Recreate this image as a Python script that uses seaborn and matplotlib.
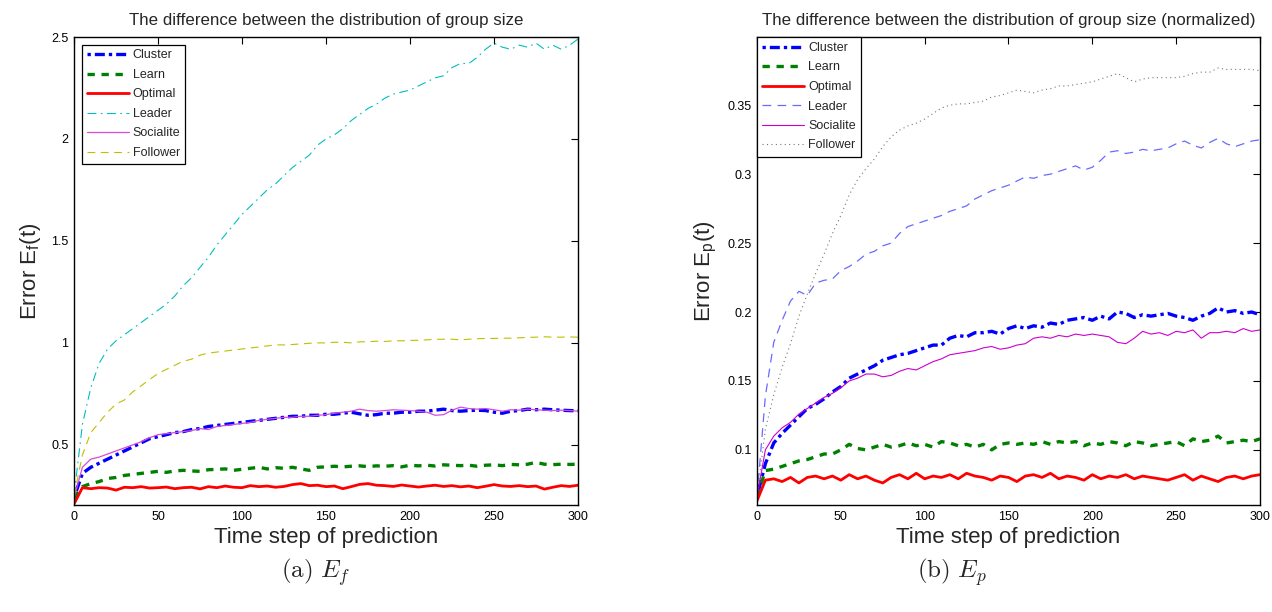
import matplotlib
matplotlib.use('Agg')
import matplotlib.pyplot as plt
import seaborn as sns
from matplotlib.ticker import FuncFormatter

# time steps (every 5 steps)
time = list(range(0, 301, 5))

# ---- (a) E_f ----
cluster_f = [0.24, 0.36, 0.39, 0.41, 0.43, 0.45, 0.47, 0.49, 0.51, 0.53, 0.54, 0.55, 0.56, 0.565, 0.575, 0.58,
             0.59, 0.595, 0.60, 0.605, 0.61, 0.615, 0.62, 0.625, 0.63, 0.635, 0.64, 0.64, 0.645, 0.645, 0.65,
             0.65, 0.655, 0.66, 0.652, 0.645, 0.648, 0.655, 0.655, 0.66, 0.66, 0.665, 0.665, 0.67, 0.675, 0.668,
             0.665, 0.668, 0.67, 0.668, 0.66, 0.655, 0.665, 0.668, 0.675, 0.672, 0.675, 0.672, 0.67, 0.668, 0.667]
learn_f = [0.24, 0.295, 0.31, 0.32, 0.335, 0.34, 0.35, 0.355, 0.36, 0.365, 0.37, 0.365, 0.372, 0.375, 0.372, 0.37,
           0.378, 0.38, 0.382, 0.375, 0.38, 0.385, 0.39, 0.382, 0.388, 0.385, 0.39, 0.382, 0.375, 0.39, 0.392,
           0.395, 0.392, 0.395, 0.397, 0.393, 0.397, 0.395, 0.398, 0.392, 0.40, 0.397, 0.40, 0.396, 0.402, 0.40,
           0.398, 0.40, 0.395, 0.40, 0.402, 0.398, 0.404, 0.402, 0.405, 0.414, 0.405, 0.403, 0.405, 0.404, 0.405]
optimal_f = [0.21, 0.29, 0.285, 0.29, 0.288, 0.278, 0.292, 0.29, 0.295, 0.288, 0.29, 0.293, 0.285, 0.29, 0.292,
             0.284, 0.295, 0.29, 0.298, 0.292, 0.29, 0.30, 0.295, 0.298, 0.292, 0.296, 0.305, 0.31, 0.30, 0.302,
             0.295, 0.298, 0.285, 0.295, 0.306, 0.31, 0.302, 0.30, 0.296, 0.303, 0.298, 0.293, 0.298, 0.302,
             0.296, 0.30, 0.294, 0.298, 0.29, 0.297, 0.305, 0.298, 0.296, 0.30, 0.295, 0.298, 0.283, 0.292, 0.30,
             0.296, 0.302]
leader_f = [0.25, 0.60, 0.78, 0.90, 0.97, 1.01, 1.04, 1.07, 1.10, 1.13, 1.16, 1.19, 1.23, 1.28, 1.32, 1.37, 1.42,
            1.48, 1.53, 1.58, 1.63, 1.67, 1.71, 1.75, 1.78, 1.82, 1.86, 1.89, 1.92, 1.97, 2.00, 2.02, 2.05, 2.09,
            2.12, 2.15, 2.17, 2.20, 2.22, 2.23, 2.24, 2.26, 2.28, 2.30, 2.31, 2.35, 2.37, 2.37, 2.40, 2.44, 2.47,
            2.45, 2.44, 2.46, 2.45, 2.47, 2.44, 2.46, 2.44, 2.46, 2.49]
socialite_f = [0.24, 0.39, 0.43, 0.44, 0.455, 0.47, 0.485, 0.50, 0.515, 0.535, 0.55, 0.555, 0.56, 0.565, 0.57,
               0.58, 0.575, 0.59, 0.595, 0.60, 0.605, 0.61, 0.62, 0.625, 0.63, 0.635, 0.635, 0.64, 0.64, 0.645,
               0.648, 0.655, 0.66, 0.665, 0.675, 0.668, 0.665, 0.668, 0.672, 0.67, 0.668, 0.665, 0.66, 0.645,
               0.648, 0.67, 0.685, 0.678, 0.675, 0.678, 0.672, 0.665, 0.672, 0.67, 0.675, 0.672, 0.67, 0.668,
               0.67, 0.668, 0.665]
follower_f = [0.25, 0.45, 0.56, 0.61, 0.66, 0.70, 0.72, 0.76, 0.79, 0.82, 0.85, 0.87, 0.89, 0.91, 0.92, 0.94,
              0.95, 0.955, 0.96, 0.965, 0.97, 0.975, 0.98, 0.985, 0.99, 0.99, 0.992, 0.995, 0.998, 1.0, 1.0,
              1.003, 1.003, 1.0, 1.005, 1.006, 1.008, 1.007, 1.01, 1.01, 1.012, 1.013, 1.015, 1.017, 1.018,
              1.018, 1.015, 1.018, 1.02, 1.022, 1.022, 1.023, 1.023, 1.025, 1.027, 1.028, 1.03, 1.028, 1.028,
              1.029, 1.028]

# ---- (b) E_p ----
cluster_p = [0.066, 0.09, 0.105, 0.112, 0.118, 0.124, 0.13, 0.133, 0.137, 0.142, 0.146, 0.152, 0.155, 0.158,
             0.161, 0.165, 0.167, 0.169, 0.17, 0.172, 0.174, 0.176, 0.176, 0.181, 0.183, 0.182, 0.185, 0.185,
             0.186, 0.184, 0.188, 0.19, 0.188, 0.19, 0.189, 0.192, 0.191, 0.194, 0.195, 0.196, 0.194, 0.197,
             0.195, 0.20, 0.199, 0.196, 0.198, 0.197, 0.198, 0.199, 0.197, 0.196, 0.194, 0.197, 0.199, 0.203,
             0.20, 0.201, 0.199, 0.20, 0.198]
learn_p = [0.066, 0.085, 0.086, 0.088, 0.09, 0.092, 0.093, 0.095, 0.097, 0.097, 0.10, 0.104, 0.101, 0.10, 0.102,
           0.104, 0.102, 0.103, 0.105, 0.103, 0.104, 0.102, 0.106, 0.105, 0.103, 0.104, 0.102, 0.104, 0.10,
           0.104, 0.105, 0.104, 0.105, 0.104, 0.106, 0.104, 0.106, 0.105, 0.106, 0.103, 0.105, 0.104, 0.106,
           0.105, 0.103, 0.106, 0.105, 0.103, 0.104, 0.105, 0.106, 0.103, 0.108, 0.106, 0.107, 0.11, 0.105,
           0.106, 0.107, 0.106, 0.108]
optimal_p = [0.063, 0.078, 0.079, 0.077, 0.08, 0.076, 0.08, 0.081, 0.079, 0.081, 0.078, 0.082, 0.079, 0.081,
             0.078, 0.076, 0.08, 0.082, 0.079, 0.083, 0.079, 0.081, 0.08, 0.082, 0.079, 0.083, 0.081, 0.08,
             0.078, 0.081, 0.08, 0.077, 0.081, 0.082, 0.08, 0.083, 0.079, 0.081, 0.08, 0.078, 0.082, 0.079,
             0.081, 0.08, 0.082, 0.079, 0.081, 0.08, 0.079, 0.078, 0.08, 0.082, 0.078, 0.081, 0.079, 0.077,
             0.08, 0.081, 0.079, 0.081, 0.082]
leader_p = [0.066, 0.139, 0.178, 0.194, 0.208, 0.215, 0.212, 0.221, 0.223, 0.224, 0.23, 0.233, 0.237, 0.242,
            0.244, 0.248, 0.25, 0.257, 0.262, 0.264, 0.266, 0.268, 0.27, 0.273, 0.275, 0.277, 0.282, 0.285,
            0.288, 0.29, 0.292, 0.295, 0.298, 0.297, 0.299, 0.30, 0.302, 0.304, 0.306, 0.303, 0.305, 0.31,
            0.316, 0.317, 0.315, 0.316, 0.318, 0.317, 0.318, 0.319, 0.322, 0.324, 0.321, 0.319, 0.323, 0.326,
            0.322, 0.32, 0.322, 0.324, 0.325]
socialite_p = [0.066, 0.10, 0.11, 0.116, 0.12, 0.126, 0.13, 0.134, 0.138, 0.141, 0.145, 0.15, 0.152, 0.155,
               0.155, 0.153, 0.154, 0.157, 0.159, 0.158, 0.161, 0.164, 0.166, 0.169, 0.17, 0.171, 0.172, 0.174,
               0.175, 0.173, 0.174, 0.176, 0.177, 0.181, 0.182, 0.181, 0.183, 0.182, 0.184, 0.183, 0.184,
               0.183, 0.182, 0.178, 0.177, 0.181, 0.186, 0.184, 0.185, 0.183, 0.186, 0.185, 0.187, 0.181,
               0.185, 0.185, 0.186, 0.185, 0.188, 0.186, 0.187]
follower_p = [0.066, 0.115, 0.14, 0.16, 0.177, 0.197, 0.213, 0.228, 0.242, 0.257, 0.27, 0.285, 0.296, 0.304,
              0.311, 0.32, 0.327, 0.332, 0.335, 0.337, 0.34, 0.344, 0.348, 0.35, 0.351, 0.351, 0.352, 0.353,
              0.356, 0.357, 0.359, 0.361, 0.36, 0.359, 0.361, 0.362, 0.364, 0.364, 0.365, 0.366, 0.367, 0.369,
              0.371, 0.373, 0.37, 0.367, 0.369, 0.37, 0.37, 0.37, 0.37, 0.371, 0.373, 0.374, 0.374, 0.377,
              0.376, 0.376, 0.376, 0.376, 0.375]

labels = ['Cluster', 'Learn', 'Optimal', 'Leader', 'Socialite', 'Follower']

sns.set_theme(style='white')
plt.rcParams['font.family'] = ['Liberation Sans', 'DejaVu Sans']
plt.rcParams['mathtext.fontset'] = 'cm'

fig = plt.figure(figsize=(12.72, 6.12), dpi=100)
ax1 = fig.add_axes([74 / 1272, 107 / 612, 504 / 1272, 468 / 612])
ax2 = fig.add_axes([757 / 1272, 107 / 612, 503 / 1272, 468 / 612])

# (series, color, linestyle, linewidth)
styles_f = [
    (cluster_f, '#0000FF', (0, (1.0, 1.2, 3.0, 1.2)), 2.4),
    (learn_f, '#008000', (0, (2.2, 2.0)), 2.4),
    (optimal_f, '#FF0000', '-', 2.0),
    (leader_f, '#00BFBF', (0, (8, 4, 1.5, 4)), 0.8),
    (socialite_f, '#D84AD8', '-', 0.9),
    (follower_f, '#BFBF00', (0, (7, 5)), 0.8),
]
styles_p = [
    (cluster_p, '#0000FF', (0, (1.0, 1.2, 3.0, 1.2)), 2.4),
    (learn_p, '#008000', (0, (2.2, 2.0)), 2.4),
    (optimal_p, '#FF0000', '-', 2.0),
    (leader_p, '#6A6AFF', (0, (7, 5)), 0.9),
    (socialite_p, '#CC00CC', '-', 0.8),
    (follower_p, '#777777', (0, (1, 3)), 0.8),
]

for ax, styles in [(ax1, styles_f), (ax2, styles_p)]:
    for (vals, col, ls, lw), lab in zip(styles, labels):
        sns.lineplot(x=time, y=vals, ax=ax, color=col, linestyle=ls, linewidth=lw, label=lab)

ax1.set_xlim(0, 300)
ax1.set_ylim(0.205, 2.5)
ax1.set_yticks([0.5, 1, 1.5, 2, 2.5])
ax2.set_xlim(0, 300)
ax2.set_ylim(0.06, 0.3995)
ax2.set_yticks([0.1, 0.15, 0.2, 0.25, 0.3, 0.35])

fmt = FuncFormatter(lambda v, p: '%g' % v)
for ax in (ax1, ax2):
    ax.set_xticks([0, 50, 100, 150, 200, 250, 300])
    ax.yaxis.set_major_formatter(fmt)
    ax.tick_params(direction='in', top=True, right=True, length=5, width=0.8,
                   labelsize=9, colors='black', pad=4)
    for sp in ax.spines.values():
        sp.set_color('black')
        sp.set_linewidth(1.0)
    ax.set_xlabel('Time step of prediction', fontsize=16, labelpad=3)

ax1.set_ylabel(r'$\mathregular{Error\ E_f(t)}$', fontsize=16, labelpad=6)
ax2.set_ylabel(r'$\mathregular{Error\ E_p(t)}$', fontsize=16, labelpad=6)
ax1.set_title('The difference between the distribution of group size', fontsize=12.2, pad=9)
ax2.set_title('The difference between the distribution of group size (normalized)', fontsize=12.2, pad=9)

leg_kw = dict(loc='upper left', fontsize=9, frameon=True, fancybox=False, framealpha=1,
              edgecolor='black', handlelength=3.4, handletextpad=0.3, labelspacing=0.6,
              borderpad=0.4)
l1 = ax1.legend(borderaxespad=0.6, **leg_kw)
l2 = ax2.legend(borderaxespad=0.0, **leg_kw)
for lg in (l1, l2):
    lg.get_frame().set_linewidth(0.9)

fig.text(316 / 1272, 1 - 572 / 612, r'$\mathrm{(a)}\ E_f$', fontsize=18, ha='center', va='center')
fig.text(952 / 1272, 1 - 572 / 612, r'$\mathrm{(b)}\ E_p$', fontsize=18, ha='center', va='center')

fig.savefig('out.png', dpi=100)
